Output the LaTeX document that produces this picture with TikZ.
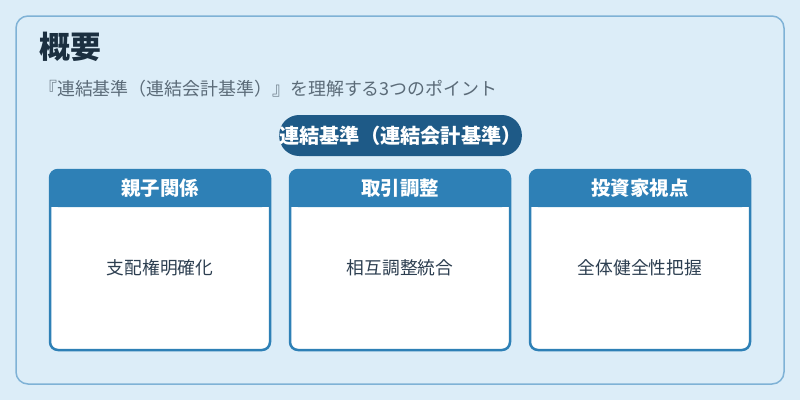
\documentclass[tikz,border=0pt]{standalone}
\usepackage{fontspec}
\setmainfont{Noto Sans CJK JP}
\definecolor{bgblue}{HTML}{DCEDF8}
\definecolor{frameblue}{HTML}{7FB2D6}
\definecolor{pillblue}{HTML}{1E5A87}
\definecolor{headblue}{HTML}{2E80B6}
\definecolor{titlecol}{HTML}{1B2F40}
\definecolor{subcol}{HTML}{5B6B78}
\definecolor{bodycol}{HTML}{2C3E50}
\begin{document}
\begin{tikzpicture}[x=1bp,y=-1bp,
    headtext/.style={text=white, font=\bfseries\fontsize{19.5}{21}\selectfont, inner sep=0pt},
    bodytext/.style={text=bodycol, font=\fontsize{17.8}{20}\selectfont, inner sep=0pt}]
                \fill[bgblue] (0,0) rectangle (800,400);
                \draw[frameblue, line width=1.5bp, rounded corners=12bp] (16,16) rectangle (784,384);

                \node[anchor=west, inner sep=0pt, text=titlecol, font=\bfseries\fontsize{31}{33}\selectfont] (title) at (39,47) {概要};
                \node[anchor=west, inner sep=0pt, text=subcol, font=\fontsize{18}{20}\selectfont] (subtitle) at (39,89) {『連結基準（連結会計基準）』を理解する3つのポイント};

                \node[fill=pillblue, rounded corners=20bp, minimum width=239bp, minimum height=41bp, inner sep=0pt, text=white, font=\bfseries\fontsize{20.3}{22}\selectfont] (core) at (400.5,135.5) {連結基準（連結会計基準）};

                \foreach \x/\head/\body [count=\i] in {50/親子関係/支配権明確化, 290/取引調整/相互調整統合, 530/投資家視点/全体健全性把握} {
                    \fill[white, rounded corners=8bp] (\x,170) rectangle ++(220,180);
                    \fill[headblue, rounded corners=8bp] (\x,170) rectangle ++(220,37);
                    \fill[headblue] (\x,190) rectangle ++(220,17);
                    \draw[headblue, line width=2.5bp, rounded corners=8bp] (\x,170) rectangle ++(220,180);
                    \node[headtext] (head\i) at ({\x+110},188) {\head};
                    \node[bodytext] (body\i) at ({\x+110},268) {\body};
                }
            \end{tikzpicture}
\end{document}
